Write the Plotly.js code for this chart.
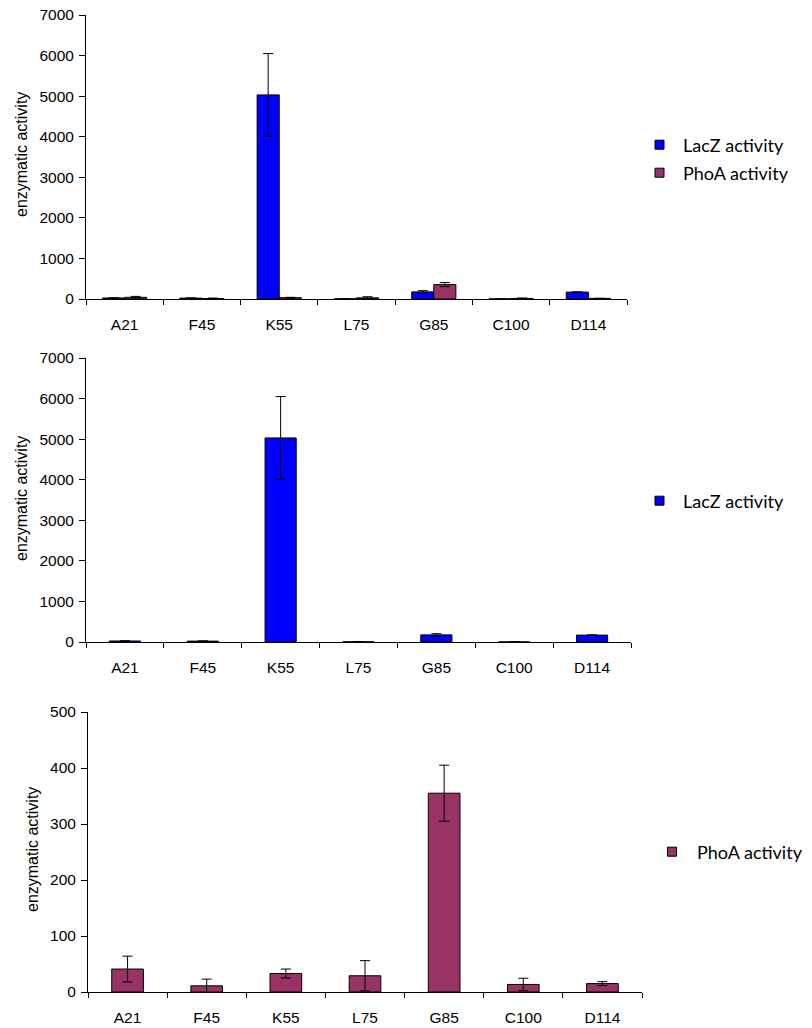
<!DOCTYPE html>
<html>
<head>
<meta charset="utf-8">
<script src="https://cdn.plot.ly/plotly-3.0.1.min.js"></script>
<style>html,body{margin:0;padding:0;background:#fff;}#chart{width:812px;height:1028px;}</style>
</head>
<body>
<div id="chart"></div>
<script>
const categories = ['A21', 'F45', 'K55', 'L75', 'G85', 'C100', 'D114'];
const laczActivity = [25, 22, 5030, 4, 175, 2, 170];
const laczError = [5, 5, 1020, 8, 30, 3, 6];
const phoaActivity = [41, 11, 33, 29, 355, 13.5, 15];
const phoaError = [23, 12, 8, 27, 50, 11, 3.5];
const laczTicks = [0, 1000, 2000, 3000, 4000, 5000, 6000, 7000];
const phoaTicks = [0, 100, 200, 300, 400, 500];

const BLUE = '#0000FF', PLUM = '#993366';
const W = 812, H = 1028;
const px = v => v / W, py = v => 1 - v / H;

function errSpec(arr) {
  return {type: 'data', array: arr, visible: true, color: '#000', thickness: 1, width: 5};
}
const barLine = {color: '#000', width: 1};

const traces = [
  // top chart
  {type: 'bar', x: categories, y: laczActivity, xaxis: 'x', yaxis: 'y', width: 0.2857, offset: -0.2857,
   marker: {color: BLUE, line: barLine}, error_y: errSpec(laczError), showlegend: false, hoverinfo: 'skip'},
  {type: 'bar', x: categories, y: phoaActivity, xaxis: 'x', yaxis: 'y', width: 0.2857, offset: 0,
   marker: {color: PLUM, line: barLine}, error_y: errSpec(phoaError), showlegend: false, hoverinfo: 'skip'},
  // middle chart
  {type: 'bar', x: categories, y: laczActivity, xaxis: 'x2', yaxis: 'y2', width: 0.4,
   marker: {color: BLUE, line: barLine}, error_y: errSpec(laczError), showlegend: false, hoverinfo: 'skip'},
  // bottom chart
  {type: 'bar', x: categories, y: phoaActivity, xaxis: 'x3', yaxis: 'y3', width: 0.4,
   marker: {color: PLUM, line: barLine}, error_y: errSpec(phoaError), showlegend: false, hoverinfo: 'skip'},
  // legend proxies
  {type: 'scatter', mode: 'markers', x: [null], y: [null], xaxis: 'x', yaxis: 'y', name: 'LacZ activity', legend: 'legend',
   marker: {symbol: 'square', size: 9, color: BLUE, line: {color: '#000', width: 1}}},
  {type: 'scatter', mode: 'markers', x: [null], y: [null], xaxis: 'x', yaxis: 'y', name: 'PhoA activity', legend: 'legend2',
   marker: {symbol: 'square', size: 9, color: PLUM, line: {color: '#000', width: 1}}},
  {type: 'scatter', mode: 'markers', x: [null], y: [null], xaxis: 'x2', yaxis: 'y2', name: 'LacZ activity', legend: 'legend3',
   marker: {symbol: 'square', size: 9, color: BLUE, line: {color: '#000', width: 1}}},
  {type: 'scatter', mode: 'markers', x: [null], y: [null], xaxis: 'x3', yaxis: 'y3', name: 'PhoA activity', legend: 'legend4',
   marker: {symbol: 'square', size: 9, color: PLUM, line: {color: '#000', width: 1}}}
];

const tickFont = {family: 'Liberation Sans, Arial, sans-serif', size: 15.5, color: '#000'};
function xax(l, r, anchor) {
  return {domain: [px(l), px(r)], anchor: anchor, type: 'category', categoryorder: 'array', categoryarray: categories,
    range: [-0.5, 6.5], showline: true, linecolor: '#000', linewidth: 1, ticks: 'outside', tickson: 'boundaries',
    ticklen: 5, tickcolor: '#000', tickfont: tickFont, ticklabelstandoff: 11, showgrid: false, zeroline: false, fixedrange: true};
}
function yax(top, bottom, anchor, max, ticks) {
  return {domain: [py(bottom), py(top)], anchor: anchor, range: [0, max], tickvals: ticks, ticktext: ticks.map(String),
    showline: true, linecolor: '#000', linewidth: 1, ticks: 'outside', ticklen: 6, tickcolor: '#000', tickfont: tickFont,
    ticklabelstandoff: 2, showgrid: false, zeroline: false, fixedrange: true};
}
const legFont = {family: 'Lato, Open Sans, sans-serif', size: 18, color: '#000'};
function leg(xc, yc, iw) {
  return {x: px(xc), y: py(yc), xanchor: 'left', yanchor: 'middle', bgcolor: 'rgba(0,0,0,0)', borderwidth: 0,
    font: legFont, itemwidth: iw, itemclick: false, itemdoubleclick: false};
}
const titleFont = {family: 'Liberation Sans, Arial, sans-serif', size: 16, color: '#000'};
function ytitle(xc, yc) {
  return {text: 'enzymatic activity', xref: 'paper', yref: 'paper', x: px(xc), y: py(yc), showarrow: false,
    textangle: -90, font: titleFont, xanchor: 'center', yanchor: 'middle'};
}

const layout = {
  width: W, height: H, margin: {l: 0, r: 0, t: 0, b: 0}, paper_bgcolor: '#fff', plot_bgcolor: 'rgba(0,0,0,0)',
  barmode: 'overlay', showlegend: true,
  xaxis: xax(86, 627, 'y'), yaxis: yax(15, 299, 'x', 7000, laczTicks),
  xaxis2: xax(86, 631, 'y2'), yaxis2: yax(358, 642, 'x2', 7000, laczTicks),
  xaxis3: xax(88, 642, 'y3'), yaxis3: yax(712, 992, 'x3', 500, phoaTicks),
  legend: leg(636, 145, 37), legend2: leg(636, 173, 37), legend3: leg(636, 501, 37), legend4: leg(647, 852, 40),
  annotations: [ytitle(21, 155), ytitle(21, 499), ytitle(32, 850)]
};

Plotly.newPlot('chart', traces, layout, {staticPlot: true, displayModeBar: false});
</script>
</body>
</html>
